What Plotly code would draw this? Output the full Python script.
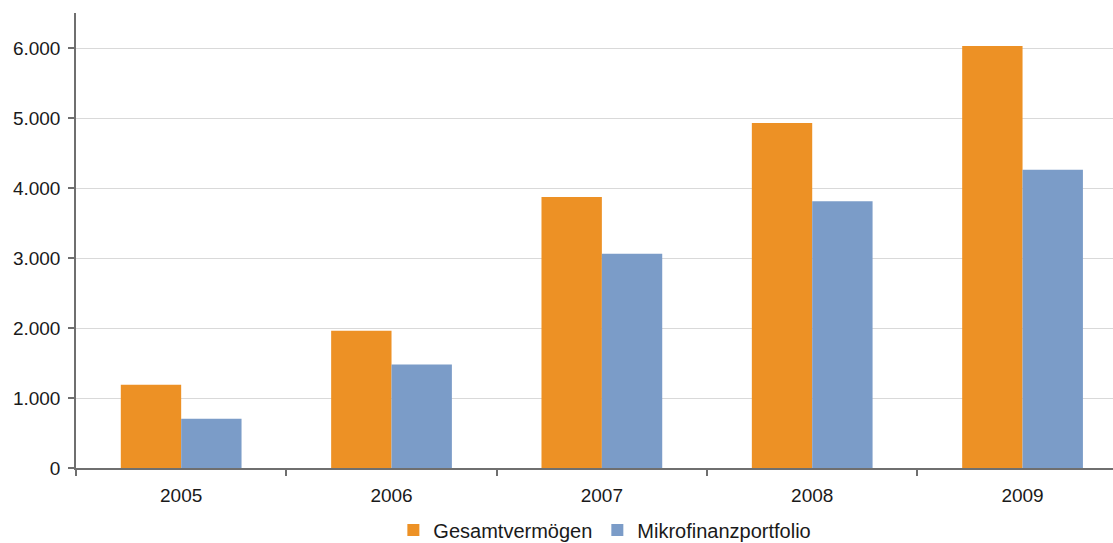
import plotly.graph_objects as go

years = ["2005", "2006", "2007", "2008", "2009"]
gesamtvermoegen = [1190, 1960, 3870, 4930, 6030]
mikrofinanzportfolio = [705, 1480, 3060, 3810, 4260]
y_ticks = [0, 1000, 2000, 3000, 4000, 5000, 6000]

FONT = "Liberation Sans, Arial, sans-serif"
AXIS_COLOR = "#6f6f6f"

fig = go.Figure()
fig.add_trace(go.Bar(name="Gesamtvermögen", x=years, y=gesamtvermoegen,
                     marker=dict(color="#ED9125", line=dict(width=0))))
fig.add_trace(go.Bar(name="Mikrofinanzportfolio", x=years, y=mikrofinanzportfolio,
                     marker=dict(color="#7B9CC8", line=dict(width=0))))

fig.update_layout(
    width=1113, height=543,
    margin=dict(l=76, r=0, t=13, b=75, autoexpand=False),
    paper_bgcolor="white", plot_bgcolor="white",
    font=dict(family=FONT, size=19, color="#1a1a1a"),
    separators=",.",
    barmode="group", bargap=0.426, bargroupgap=0,
    showlegend=True,
    legend=dict(orientation="h", x=0.51, xanchor="center",
                y=-0.136, yanchor="middle",
                font=dict(size=20), itemwidth=30, tracegroupgap=0,
                bgcolor="rgba(0,0,0,0)"),
)

fig.update_xaxes(
    type="category", range=[-0.5, 4.43],
    showline=True, linecolor=AXIS_COLOR, linewidth=1.5,
    ticks="outside", tickson="boundaries", ticklen=6, tickcolor=AXIS_COLOR,
    tickwidth=1.5, showgrid=False, ticklabelstandoff=9,
)
fig.update_yaxes(
    range=[0, 6500], tickvals=y_ticks, tickformat=",d",
    showline=True, linecolor=AXIS_COLOR, linewidth=1.5,
    ticks="outside", ticklen=6, tickcolor=AXIS_COLOR, tickwidth=1.5,
    showgrid=True, gridcolor="#d9d9d9", gridwidth=1,
    zeroline=False, ticklabelstandoff=4,
)

fig.write_html("out.html")
